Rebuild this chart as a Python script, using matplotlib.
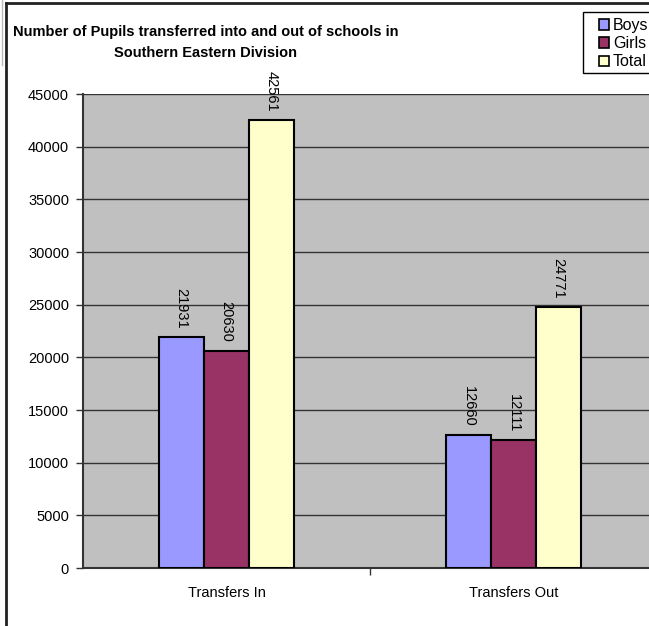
import numpy as np
import matplotlib
matplotlib.use("Agg")
import matplotlib.pyplot as plt
from matplotlib.lines import Line2D
from matplotlib.patches import Patch, Rectangle

plt.rcParams['font.family'] = ['Liberation Sans', 'DejaVu Sans']

# data
categories = ['Transfers In', 'Transfers Out']
series_names = ['Boys', 'Girls', 'Total']
boys = [21931, 12660]
girls = [20630, 12111]
total = [42561, 24771]
colors = ['#9999FF', '#993366', '#FFFFCC']

W, H = 649, 626
fig = plt.figure(figsize=(W / 100, H / 100), dpi=100)

# plot area (runs past the right edge, as in the cropped original)
ax = fig.add_axes([83 / W, (H - 568) / H, 574 / W, 474 / H])
ax.set_facecolor('#C0C0C0')

x = np.arange(len(categories))
bw = 0.157
for i, (vals, c) in enumerate(zip([boys, girls, total], colors)):
    bars = ax.bar(x + (i - 1) * bw, vals, bw, color=c, edgecolor='black',
                  linewidth=1.5, zorder=3, label=series_names[i])
    for b, v in zip(bars, vals):
        ax.annotate(str(v), (b.get_x() + b.get_width() / 2, v),
                    xytext=(0, 6), textcoords='offset points',
                    ha='center', va='bottom', rotation=270, fontsize=10.5)

ax.set_xlim(-0.5, 1.5)
ax.set_ylim(0, 45000)
ax.set_yticks(np.arange(0, 45001, 5000))
ax.yaxis.grid(True, color='#333333', linewidth=1, zorder=0)
ax.set_axisbelow(True)

ax.set_xticks(x)
ax.set_xticklabels(categories, fontsize=10.5)
ax.set_xticks([0.5], minor=True)
ax.tick_params(axis='x', which='major', length=0, pad=13)
ax.tick_params(axis='x', which='minor', length=5, width=1, direction='out', color='#333333')
ax.tick_params(axis='y', length=5, width=1, direction='out', labelsize=10.5, pad=5, color='#333333')

for s in ['top', 'right']:
    ax.spines[s].set_visible(False)
for s in ['left', 'bottom']:
    ax.spines[s].set_color('#333333')
    ax.spines[s].set_linewidth(1.5)

# title
fig.text(206 / W, 1 - 32 / H, 'Number of Pupils transferred into and out of schools in',
         ha='center', va='center', fontsize=10.5, fontweight='bold')
fig.text(206 / W, 1 - 53 / H, 'Southern Eastern Division',
         ha='center', va='center', fontsize=10.5, fontweight='bold')

# legend (box runs off the right edge like the original)
fig.add_artist(Rectangle((583 / W, 1 - 73 / H), 120 / W, 61 / H,
                         transform=fig.transFigure, facecolor='white',
                         edgecolor='black', linewidth=1, zorder=4))
handles = [Patch(facecolor=c, edgecolor='black', linewidth=1.2) for c in colors]
leg = fig.legend(handles, series_names, loc='upper left',
                 bbox_to_anchor=(599 / W, 1 - 18 / H), fontsize=11.5,
                 frameon=False, handlelength=0.62, handleheight=0.62,
                 handletextpad=0.25, labelspacing=0.2, borderpad=0,
                 borderaxespad=0)
leg.set_zorder(5)

# chart border lines
fig.add_artist(Line2D([6 / W, 6 / W], [0, 1 - 3 / H], color='#222222', linewidth=2))
fig.add_artist(Line2D([6 / W, 1], [1 - 3 / H, 1 - 3 / H], color='#222222', linewidth=2))
fig.add_artist(Line2D([2 / W, 2 / W], [1 - 65 / H, 1], color='#BBBBBB', linewidth=1))

fig.savefig('out.png', dpi=100)
